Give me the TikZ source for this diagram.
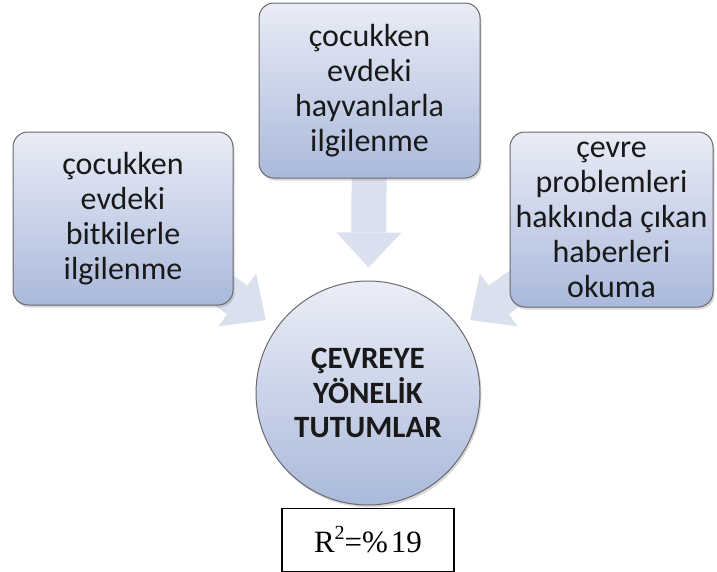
\documentclass[tikz,border=0pt]{standalone}
\usepackage{fontspec}
\setmainfont{Carlito}
\newfontfamily\timesfont{Liberation Serif}
\usetikzlibrary{positioning}
\usetikzlibrary{arrows.meta}
\usetikzlibrary{shadows}
\usetikzlibrary{backgrounds}
\definecolor{kutuust}{RGB}{233,236,246}
\definecolor{kutualt}{RGB}{170,185,219}
\definecolor{kenar}{RGB}{105,105,110}
\definecolor{okrenk}{RGB}{218,224,238}

\begin{document}
\begin{tikzpicture}[x=1pt, y=-1pt,
kutunode/.style={rectangle, rounded corners=15pt, draw=kenar, line width=1pt, top color=kutuust, bottom color=kutualt, drop shadow={opacity=0.3, shadow xshift=1.5pt, shadow yshift=-2.5pt}, inner sep=0pt, align=center, text=black!90, font=\fontsize{32}{35}\selectfont},
merkeznode/.style={circle, draw=kenar, line width=1pt, top color=kutuust!90, bottom color=kutualt, drop shadow={opacity=0.3, shadow xshift=1.5pt, shadow yshift=-2.5pt}, inner sep=0pt, minimum size=224pt, align=center, text=black!90, font=\fontsize{31}{34.5}\selectfont\bfseries},
sonucnode/.style={rectangle, draw=black, line width=1.2pt, fill=white, inner sep=0pt, minimum width=172pt, minimum height=63pt, font=\timesfont\fontsize{31}{34}\selectfont},
okline/.style={draw=okrenk, line width=35pt, -{Triangle[width=65pt, length=35pt, line width=0pt]}, shorten >=13pt},
]
\useasboundingbox (0,0) rectangle (717,571);

%Nodes
\node[kutunode, minimum width=220pt, minimum height=173pt] (bitki)  at (123,218.5) {çocukken\\evdeki\\bitkilerle\\ilgilenme};
\node[kutunode, minimum width=221pt, minimum height=175pt] (hayvan) at (369.5,90.5) {çocukken\\evdeki\\hayvanlarla\\ilgilenme};
\node[kutunode, minimum width=203pt, minimum height=175pt] (haber)  at (611.5,219.5) {çevre\\problemleri\\hakkında çıkan\\haberleri\\okuma};
\node[merkeznode] (tutum) at (368,393) {ÇEVREYE\\YÖNELİK\\TUTUMLAR};
\node[sonucnode] (rkare) [below=2pt of tutum] {R\raisebox{0.42em}{\fontsize{20}{20}\selectfont 2}=\%\kern3pt19};

%Lines
\begin{scope}[on background layer]
\draw[okline] (bitki.center) -- (tutum);
\draw[okline] (hayvan.center) -- (tutum);
\draw[okline] (haber.center) -- (tutum);
\end{scope}
\end{tikzpicture}
\end{document}
